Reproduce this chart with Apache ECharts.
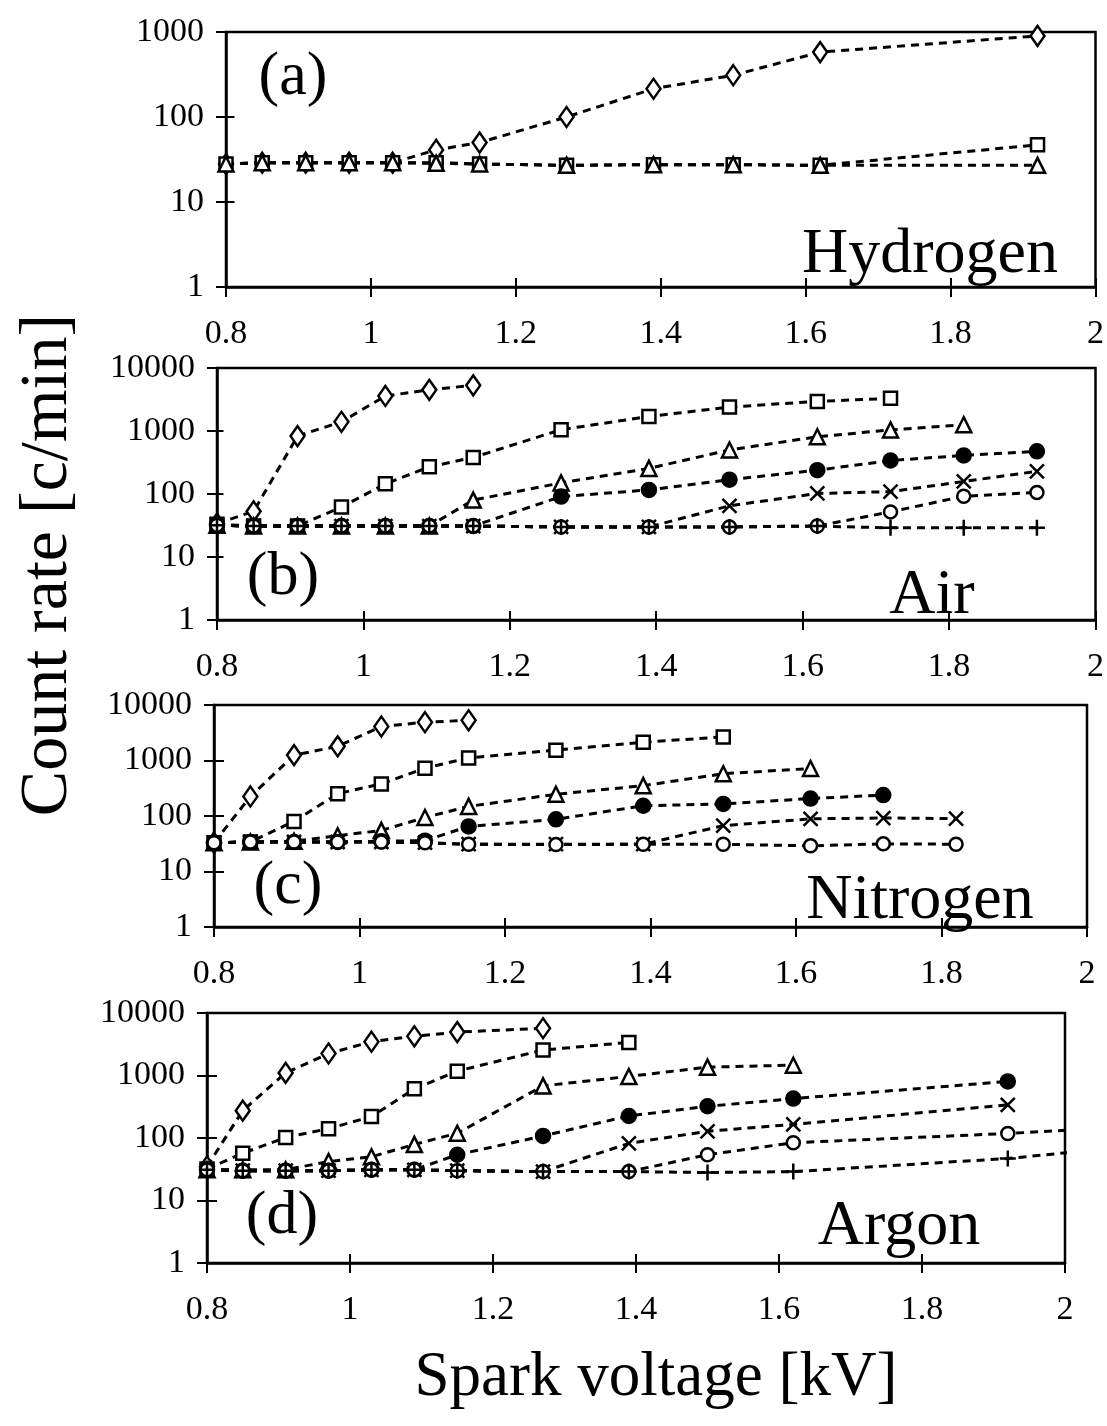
<!DOCTYPE html>
<html><head><meta charset="utf-8">
<script src="https://cdn.jsdelivr.net/npm/echarts@6/dist/echarts.min.js"></script>
<style>html,body{margin:0;padding:0;background:#fff}#c{width:1107px;height:1426px}</style>
</head><body><div id="c"></div>
<script>
// Spark voltage [kV]
const voltage = [0.8, 0.85, 0.91, 0.97, 1.03, 1.09, 1.15, 1.27, 1.39, 1.5, 1.62, 1.72, 1.82, 1.92, 2.04];
const xTicks = [0.8, 1, 1.2, 1.4, 1.6, 1.8, 2];

// (a) Hydrogen
const hydrogenDiamond  = [28, 29, 29, 29, 29, 41, 50, 100, 215, 310, 580, null, null, 900, null];
const hydrogenSquare   = [28, 29, 29, 29, 29, 29, 28, 27, 27.5, 27.5, 27, null, null, 47, null];
const hydrogenTriangle = [28, 29, 29, 29, 29, 28.5, 28, 27, 27.5, 27.5, 27, null, null, 27, null];

// (b) Air
const airDiamond  = [34, 53, 830, 1400, 3600, 4500, 5300, null, null, null, null, null, null, null, null];
const airSquare   = [33, 31, 31, 62, 145, 270, 380, 1050, 1700, 2400, 2950, 3300, null, null, null];
const airTriangle = [32, 31, 31, 31, 31, 31, 80, 150, 255, 500, 810, 1040, 1260, null, null];
const airDot      = [32, 31, 31, 31, 31, 31, 31, 91, 116, 169, 239, 340, 410, 476, null];
const airCross    = [32, 31, 31, 31, 31, 31, 31, 30, 30, 65, 102, 109, 158, 229, null];
const airCircle   = [32, 31, 31, 31, 31, 31, 31, 30, 30, 30, 31, 52, 92, 106, null];
const airPlus     = [32, 31, 31, 31, 31, 31, 31, 30, 30, 30, 31, 29, 29, 29, null];

// (c) Nitrogen
const nitrogenDiamond  = [33, 225, 1250, 1800, 4100, 4900, 5300, null, null, null, null, null, null, null, null];
const nitrogenSquare   = [33, 34, 80, 253, 378, 726, 1114, 1535, 2138, 2660, null, null, null, null, null];
const nitrogenTriangle = [33, 34, 35, 44, 55, 94, 149, 246, 352, 577, 718, null, null, null, null];
const nitrogenDot      = [33, 34, 34, 34, 35, 36, 65, 87, 153, 165, 206, 238, null, null, null];
const nitrogenCross    = [33, 34, 34, 34, 34, 33, 31, 31, 31, 67, 89, 92, 90, null, null];
const nitrogenCircle   = [33, 34, 34, 34, 34, 33, 31, 30.5, 31, 31, 29, 31.5, 31, null, null];

// (d) Argon
const argonDiamond  = [35, 274, 1100, 2250, 3470, 4240, 4950, 5700, null, null, null, null, null, null, null];
const argonSquare   = [32, 57, 102, 141, 220, 611, 1174, 2553, 3388, null, null, null, null, null, null];
const argonTriangle = [31, 31, 31, 42, 50, 79, 119, 682, 966, 1361, 1462, null, null, null, null];
const argonDot      = [31, 30, 30, 30, 31, 31, 54, 108, 225, 322, 427, null, null, 805, null];
const argonCross    = [31, 30, 30, 30, 31, 31, 30, 29, 82, 128, 165, null, null, 340, null];
const argonCircle   = [31, 30, 30, 30, 31, 31, 30, 29, 29, 54, 84, null, null, 118, 140];
const argonPlus     = [31, 30, 30, 30, 31, 31, 30, 29, 29, 28, 29, null, null, 47, 64];

const FONT = '"Liberation Serif", "DejaVu Serif", serif';
const MARK = {
  diamond:  {symbol: 'diamond', size: [14, 20], fill: '#fff'},
  square:   {symbol: 'rect', size: 13, fill: '#fff'},
  triangle: {symbol: 'triangle', size: 15, fill: '#fff'},
  dot:      {symbol: 'circle', size: 14, fill: '#000'},
  cross:    {symbol: 'path://M0,0 L10,10 M10,0 L0,10', size: 14, fill: 'none'},
  circle:   {symbol: 'circle', size: 13, fill: '#fff'},
  plus:     {symbol: 'path://M5,0 L5,10 M0,5 L10,5', size: 16, fill: 'none'}
};

const panels = [
  {grid: {left: 226, top: 32, width: 871, height: 255}, yMax: 1000,
   label: '(a)', labelPos: [293, 78], gas: 'Hydrogen', gasPos: [930, 255],
   series: [['diamond', hydrogenDiamond], ['square', hydrogenSquare], ['triangle', hydrogenTriangle]]},
  {grid: {left: 217, top: 368, width: 882, height: 252}, yMax: 10000,
   label: '(b)', labelPos: [283, 578], gas: 'Air', gasPos: [932, 596],
   series: [['diamond', airDiamond], ['square', airSquare], ['triangle', airTriangle], ['dot', airDot],
            ['cross', airCross], ['circle', airCircle], ['plus', airPlus]]},
  {grid: {left: 214, top: 705, width: 873, height: 222}, yMax: 10000,
   label: '(c)', labelPos: [288, 887], gas: 'Nitrogen', gasPos: [920, 901],
   series: [['diamond', nitrogenDiamond], ['square', nitrogenSquare], ['triangle', nitrogenTriangle],
            ['dot', nitrogenDot], ['cross', nitrogenCross], ['circle', nitrogenCircle]]},
  {grid: {left: 207, top: 1013, width: 858, height: 250}, yMax: 10000,
   label: '(d)', labelPos: [282, 1217], gas: 'Argon', gasPos: [899, 1227],
   series: [['diamond', argonDiamond], ['square', argonSquare], ['triangle', argonTriangle], ['dot', argonDot],
            ['cross', argonCross], ['circle', argonCircle], ['plus', argonPlus]]}
];

const grids = [], xAxes = [], yAxes = [], series = [], graphics = [];
const lab = {color: '#000', fontFamily: FONT, fontSize: 34};
panels.forEach((p, i) => {
  grids.push(Object.assign({show: true, borderColor: '#000', borderWidth: 2.5, backgroundColor: 'transparent'}, p.grid));
  const xCommon = {gridIndex: i, type: 'value', min: 0.8, max: 2, interval: 0.2, splitLine: {show: false}};
  xAxes.push(Object.assign({}, xCommon, {
    position: 'bottom',
    axisLine: {show: true, lineStyle: {color: '#000', width: 2.5}},
    axisTick: {show: true, length: 10, lineStyle: {color: '#000', width: 2}},
    axisLabel: Object.assign({margin: 30, formatter: v => String(xTicks.find(t => Math.abs(t - v) < 1e-6) ?? v)}, lab)
  }));
  xAxes.push(Object.assign({}, xCommon, {
    position: 'top', offset: -p.grid.height,
    axisLine: {show: false},
    axisTick: {show: true, length: 9, lineStyle: {color: '#000', width: 2}},
    axisLabel: {show: false}
  }));
  const yCommon = {gridIndex: i, type: 'log', logBase: 10, min: 1, max: p.yMax, splitLine: {show: false}, minorTick: {show: false}};
  yAxes.push(Object.assign({}, yCommon, {
    position: 'left',
    axisLine: {show: true, lineStyle: {color: '#000', width: 2.5}},
    axisTick: {show: true, length: 10, lineStyle: {color: '#000', width: 2}},
    axisLabel: Object.assign({margin: 22, formatter: v => String(Math.round(v))}, lab)
  }));
  yAxes.push(Object.assign({}, yCommon, {
    position: 'right', offset: -p.grid.width,
    axisLine: {show: false},
    axisTick: {show: true, length: 10, lineStyle: {color: '#000', width: 2}},
    axisLabel: {show: false}
  }));
  p.series.forEach(([kind, vals]) => {
    const m = MARK[kind];
    const data = [];
    voltage.forEach((v, k) => { if (vals[k] != null) data.push([v, vals[k]]); });
    series.push({
      type: 'line', xAxisIndex: 2 * i, yAxisIndex: 2 * i, data,
      symbol: m.symbol, symbolSize: m.size, symbolKeepAspect: true, showAllSymbol: true,
      clip: true, connectNulls: true, silent: true,
      lineStyle: {color: '#000', width: 3, type: [8, 6]},
      itemStyle: {color: m.fill, borderColor: '#000', borderWidth: 2.5},
      emphasis: {disabled: true}
    });
  });
  graphics.push({type: 'text', x: p.labelPos[0], y: p.labelPos[1],
    style: {text: p.label, font: '62px ' + FONT, fill: '#000', align: 'center', verticalAlign: 'middle'}});
  graphics.push({type: 'text', x: p.gasPos[0], y: p.gasPos[1],
    style: {text: p.gas, font: '64px ' + FONT, fill: '#000', align: 'center', verticalAlign: 'middle'}});
});
graphics.push({type: 'text', x: 48, y: 565, rotation: Math.PI / 2,
  style: {text: 'Count rate [c/min]', font: '68px ' + FONT, fill: '#000', align: 'center', verticalAlign: 'middle'}});
graphics.push({type: 'text', x: 656, y: 1378,
  style: {text: 'Spark voltage [kV]', font: '63px ' + FONT, fill: '#000', align: 'center', verticalAlign: 'middle'}});

const chart = echarts.init(document.getElementById('c'), null, {renderer: 'canvas'});
chart.setOption({
  animation: false, backgroundColor: '#fff',
  grid: grids, xAxis: xAxes, yAxis: yAxes, series, graphic: graphics
});
</script></body></html>
